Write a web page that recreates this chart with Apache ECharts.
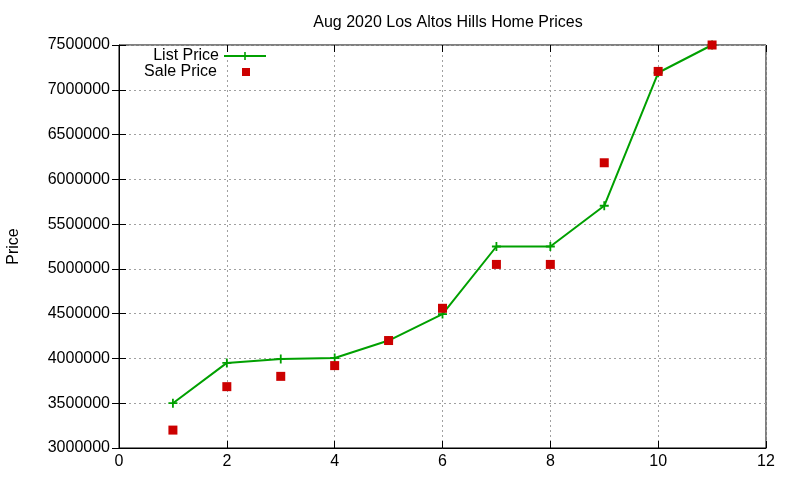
<!DOCTYPE html>
<html>
<head>
<meta charset="utf-8">
<script src="https://cdn.jsdelivr.net/npm/echarts@6/dist/echarts.min.js"></script>
<style>
  html, body { margin: 0; padding: 0; background: #fff; }
  #container { width: 800px; height: 480px; }
</style>
</head>
<body>
<div id="container"></div>
<script>
// Datos
var months = [1, 2, 3, 4, 5, 6, 7, 8, 9, 10, 11];
var listPrice = [3500000, 3950000, 3995000, 4005000, 4200000, 4495000, 5250000, 5250000, 5705000, 7190000, 7500000];
var salePrice = [3200000, 3685000, 3800000, 3920000, 4200000, 4560000, 5050000, 5050000, 6185000, 7205000, 7500000];

var FONT = '"Liberation Sans", Arial, sans-serif';
var plusPath = 'path://M4,0H6V4H10V6H6V10H4V6H0V4H4Z';
var squarePath = 'path://M0,0H10V10H0Z';

function pairs(xs, ys) {
    return xs.map(function (x, i) { return [x, ys[i]]; });
}

document.addEventListener('DOMContentLoaded', function () {
    var dom = document.getElementById('container');
    var myChart = echarts.init(dom);

    var axisText = { color: '#000', fontFamily: FONT, fontSize: 16 };
    var grid = { type: [2, 3], color: '#a0a0a0', width: 1 };

    var option = {
        animation: false,
        backgroundColor: '#fff',
        title: {
            text: 'Aug 2020 Los Altos Hills Home Prices',
            left: 443,
            top: 10,
            textAlign: 'center',
            textStyle: { color: '#000', fontFamily: FONT, fontSize: 16, fontWeight: 'normal' }
        },
        legend: [
            {
                data: ['List Price'],
                orient: 'vertical',
                right: 533,
                top: 48,
                align: 'right',
                itemWidth: 42,
                itemHeight: 10,
                itemGap: 8,
                padding: 0,
                textStyle: axisText
            },
            {
                data: [{ name: 'Sale Price', icon: squarePath }],
                orient: 'vertical',
                right: 550,
                top: 64,
                align: 'right',
                itemWidth: 8,
                itemHeight: 8,
                itemGap: 8,
                padding: 0,
                textStyle: Object.assign({ padding: [0, 20, 0, 0] }, axisText)
            }
        ],
        grid: {
            left: 119,
            right: 34,
            top: 45,
            bottom: 32,
            containLabel: false,
            outerBoundsMode: 'none',
            show: true,
            borderColor: '#000',
            borderWidth: 1
        },
        xAxis: [
            {
                type: 'value',
                min: 0,
                max: 12,
                interval: 2,
                axisLine: { show: true, onZero: false, lineStyle: { color: '#000' } },
                axisTick: { inside: true, length: 7, lineStyle: { color: '#000' } },
                axisLabel: Object.assign({ margin: 6 }, axisText),
                splitLine: { show: true, lineStyle: grid }
            },
            {
                type: 'value',
                position: 'top',
                min: 0,
                max: 12,
                interval: 2,
                axisLine: { show: false },
                axisTick: { inside: true, length: 7, lineStyle: { color: '#000' } },
                axisLabel: { show: false },
                splitLine: { show: false }
            }
        ],
        yAxis: [
            {
                type: 'value',
                min: 3000000,
                max: 7500000,
                interval: 500000,
                name: 'Price',
                nameLocation: 'middle',
                nameRotate: 90,
                nameGap: 97,
                nameTextStyle: axisText,
                axisLine: { show: true, onZero: false, lineStyle: { color: '#000' } },
                axisTick: { inside: true, length: 7, lineStyle: { color: '#000' } },
                axisLabel: Object.assign({
                    margin: 9,
                    formatter: function (v) { return String(v); }
                }, axisText),
                splitLine: { show: true, lineStyle: grid }
            },
            {
                type: 'value',
                position: 'right',
                min: 3000000,
                max: 7500000,
                interval: 500000,
                axisLine: { show: false },
                axisTick: { inside: true, length: 7, lineStyle: { color: '#000' } },
                axisLabel: { show: false },
                splitLine: { show: false }
            }
        ],
        series: [
            {
                name: 'List Price',
                type: 'line',
                data: pairs(months, listPrice),
                symbol: plusPath,
                symbolSize: 9,
                showAllSymbol: true,
                color: '#00a000',
                lineStyle: { color: '#00a000', width: 2 },
                itemStyle: { color: '#00a000' },
                z: 2
            },
            {
                name: 'Sale Price',
                type: 'scatter',
                data: pairs(months, salePrice),
                symbol: 'rect',
                symbolSize: 9,
                color: '#cc0000',
                itemStyle: { color: '#cc0000', opacity: 1 },
                z: 3
            }
        ]
    };

    myChart.setOption(option);

    window.addEventListener('resize', myChart.resize);
});
</script>
</body>
</html>
